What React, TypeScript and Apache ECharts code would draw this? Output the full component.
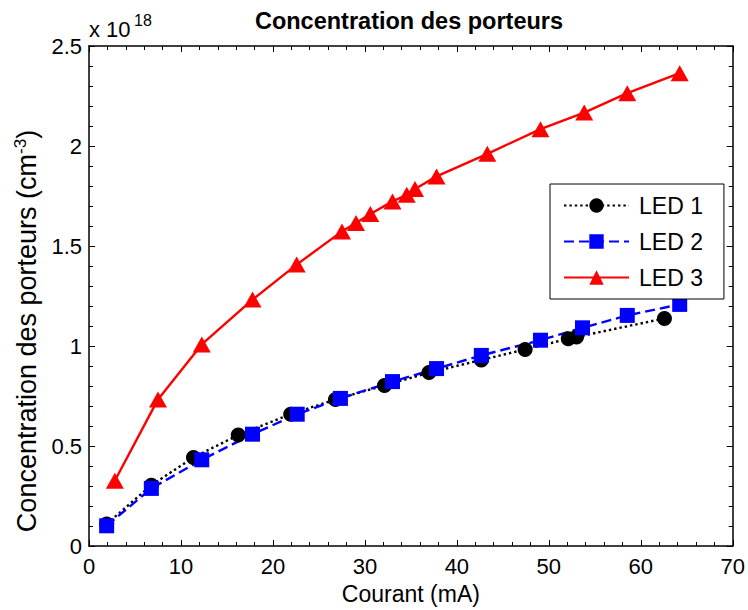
import React, { useEffect, useRef } from "react";
import * as echarts from "echarts";

// Courant (mA) and concentration (x 1e18 cm^-3)
const led1X = [1.92, 6.78, 11.36, 16.23, 21.93, 26.8, 32.13, 36.97, 42.66, 47.42, 52.11, 53.01, 62.57];
const led1Y = [0.11, 0.304, 0.443, 0.555, 0.659, 0.733, 0.803, 0.867, 0.93, 0.983, 1.036, 1.045, 1.138];

const led2X = [1.92, 6.78, 12.26, 17.78, 22.64, 27.34, 33.0, 37.79, 42.66, 49.09, 53.66, 58.53, 64.23];
const led2Y = [0.101, 0.288, 0.431, 0.559, 0.659, 0.738, 0.822, 0.887, 0.953, 1.029, 1.091, 1.153, 1.208];

const led3X = [2.81, 7.5, 12.26, 17.78, 22.58, 27.51, 29.03, 30.59, 33.0, 34.55, 35.45, 37.79, 43.31, 49.09, 53.85, 58.53, 64.23];
const led3Y = [0.326, 0.733, 1.008, 1.232, 1.407, 1.573, 1.615, 1.66, 1.723, 1.756, 1.785, 1.848, 1.961, 2.084, 2.167, 2.264, 2.364];

const seriesNames = ["LED 1", "LED 2", "LED 3"];
const xTicks = { min: 0, max: 70, interval: 10 };
const yTicks = { min: 0, max: 2.5, interval: 0.5 };

const FONT = "'Liberation Sans', Arial, Helvetica, sans-serif";

function pairs(xs: number[], ys: number[]) {
  return xs.map((x, i) => [x, ys[i]]);
}

export default function App() {
  const ref = useRef<HTMLDivElement>(null);
  useEffect(() => {
    if (!ref.current) return;
    const chart = echarts.init(ref.current, null, { renderer: "svg" });
    const axisCommon = {
      axisLine: { show: true, onZero: false, lineStyle: { color: "#000", width: 1.5 } },
      axisTick: { show: true, inside: true, length: 6, lineStyle: { color: "#000", width: 1 } },
      minorTick: { show: true, splitNumber: 5, length: 4, lineStyle: { color: "#000", width: 1 } },
      splitLine: { show: false },
      minorSplitLine: { show: false },
    };
    const option: any = {
      animation: false,
      backgroundColor: "#fff",
      textStyle: { fontFamily: FONT },
      grid: { left: 89, right: 12, top: 46, bottom: 63, containLabel: false },
      xAxis: [
        {
          type: "value",
          position: "bottom",
          ...xTicks,
          ...axisCommon,
          axisLabel: { show: true, color: "#000", fontSize: 22, fontFamily: FONT, margin: 9 },
          name: "Courant (mA)",
          nameLocation: "middle",
          nameGap: 36,
          nameTextStyle: { color: "#000", fontSize: 23, fontFamily: FONT },
        },
        {
          type: "value",
          position: "top",
          ...xTicks,
          ...axisCommon,
          axisLabel: { show: false },
        },
      ],
      yAxis: [
        {
          type: "value",
          position: "left",
          ...yTicks,
          ...axisCommon,
          axisLabel: {
            show: true,
            color: "#000",
            fontSize: 22,
            fontFamily: FONT,
            margin: 7,
            formatter: (v: number) => String(Math.round(v * 10) / 10),
          },
        },
        {
          type: "value",
          position: "right",
          ...yTicks,
          ...axisCommon,
          axisLabel: { show: false },
        },
      ],
      legend: {
        orient: "vertical",
        left: 550,
        top: 184,
        padding: [10, 21, 10, 13],
        itemWidth: 65,
        itemHeight: 18,
        itemGap: 13,
        backgroundColor: "#fff",
        borderColor: "#000",
        borderWidth: 1,
        borderRadius: 0,
        textStyle: { color: "#000", fontSize: 23, fontFamily: FONT, padding: [0, 0, 0, 5] },
        data: seriesNames,
      },
      series: [
        {
          name: seriesNames[0],
          type: "line",
          data: pairs(led1X, led1Y),
          symbol: "circle",
          symbolSize: 15,
          lineStyle: { color: "#000", width: 2.4, type: [2.4, 3] },
          itemStyle: { color: "#000" },
          xAxisIndex: 0,
          yAxisIndex: 0,
        },
        {
          name: seriesNames[1],
          type: "line",
          data: pairs(led2X, led2Y),
          symbol: "rect",
          symbolSize: 15,
          lineStyle: { color: "#0000ff", width: 2.4, type: [10, 5] },
          itemStyle: { color: "#0000ff" },
          xAxisIndex: 0,
          yAxisIndex: 0,
        },
        {
          name: seriesNames[2],
          type: "line",
          data: pairs(led3X, led3Y),
          symbol: "triangle",
          symbolSize: [18, 16],
          lineStyle: { color: "#ff0000", width: 2.4, type: "solid" },
          itemStyle: { color: "#ff0000" },
          xAxisIndex: 0,
          yAxisIndex: 0,
        },
      ],
      graphic: [
        {
          type: "text",
          x: 409,
          y: 21,
          style: {
            text: "Concentration des porteurs",
            font: `bold 23.5px ${FONT}`,
            fill: "#000",
            align: "center",
            verticalAlign: "middle",
          },
        },
        {
          type: "text",
          x: 89,
          y: 29,
          style: {
            text: "x 10",
            font: `22px ${FONT}`,
            fill: "#000",
            align: "left",
            verticalAlign: "middle",
          },
        },
        {
          type: "text",
          x: 134,
          y: 20,
          style: {
            text: "18",
            font: `16px ${FONT}`,
            fill: "#000",
            align: "left",
            verticalAlign: "middle",
          },
        },
        {
          type: "text",
          x: 27,
          y: 331,
          rotation: Math.PI / 2,
          style: {
            text: "{a|Concentration des porteurs (cm}{b|-3}{a|)}",
            fill: "#000",
            align: "center",
            verticalAlign: "middle",
            rich: {
              a: { fontSize: 27, fontFamily: FONT, fill: "#000", lineHeight: 30 },
              b: { fontSize: 17, fontFamily: FONT, fill: "#000", verticalAlign: "top" },
            },
          },
        },
      ],
    };
    chart.setOption(option);
    return () => chart.dispose();
  }, []);
  return (
    <div
      ref={ref}
      style={{ position: "fixed", left: 0, top: 0, width: 748, height: 610, background: "#fff" }}
    />
  );
}
